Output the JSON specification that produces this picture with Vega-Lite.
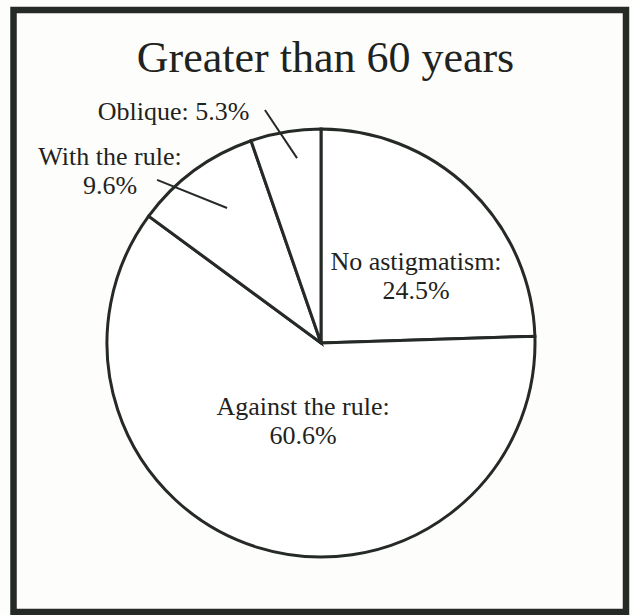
{
  "$schema": "https://vega.github.io/schema/vega-lite/v6.json",
  "width": 622,
  "height": 544,
  "padding": {"left": 10, "top": 71, "right": 0, "bottom": 0},
  "autosize": {"type": "none"},
  "background": "#fdfdfc",
  "config": {"view": {"stroke": null}},
  "datasets": {
    "slices": [
      {"category": "No astigmatism", "pct": 24.5, "order": 1},
      {"category": "Against the rule", "pct": 60.6, "order": 2},
      {"category": "With the rule", "pct": 9.6, "order": 3},
      {"category": "Oblique", "pct": 5.3, "order": 4}
    ],
    "labels": [
      {"label": "No astigmatism:\n24.5%", "ax": 0.444, "ay": 0.341},
      {"label": "Against the rule:\n60.6%", "ax": -0.084, "ay": -0.336},
      {"label": "With the rule:\n9.6%", "ax": -0.986, "ay": 0.832},
      {"label": "Oblique: 5.3%", "ax": -0.689, "ay": 1.042}
    ],
    "leaders": [
      {"category": "Oblique", "ax": -0.262, "ay": 1.089, "bx": -0.112, "by": 0.864},
      {"category": "With the rule", "ax": -0.766, "ay": 0.762, "bx": -0.439, "by": 0.631}
    ]
  },
  "layer": [
    {
      "data": {"name": "slices"},
      "mark": {"type": "arc", "outerRadius": 214, "fill": "#ffffff", "stroke": "#262a27", "strokeWidth": 3, "strokeJoin": "miter"},
      "encoding": {
        "theta": {"field": "pct", "type": "quantitative", "stack": true},
        "order": {"field": "order", "type": "quantitative"}
      }
    },
    {
      "data": {"name": "leaders"},
      "mark": {"type": "rule", "stroke": "#262a27", "strokeWidth": 2},
      "encoding": {
        "x": {"field": "ax", "type": "quantitative", "scale": {"domain": [-1.4533, 1.4533]}, "axis": null},
        "y": {"field": "ay", "type": "quantitative", "scale": {"domain": [-1.271, 1.271]}, "axis": null},
        "x2": {"field": "bx"},
        "y2": {"field": "by"}
      }
    },
    {
      "data": {"name": "labels"},
      "mark": {"type": "text", "font": "Liberation Serif", "fontSize": 26, "lineHeight": 29, "lineBreak": "\n", "align": "center", "baseline": "alphabetic", "color": "#1f2320"},
      "encoding": {
        "x": {"field": "ax", "type": "quantitative", "scale": {"domain": [-1.4533, 1.4533]}, "axis": null},
        "y": {"field": "ay", "type": "quantitative", "scale": {"domain": [-1.271, 1.271]}, "axis": null},
        "text": {"field": "label", "type": "nominal"}
      }
    },
    {
      "data": {"values": [{"title": "Greater than 60 years"}]},
      "mark": {"type": "text", "font": "Liberation Serif", "fontSize": 44, "align": "center", "baseline": "alphabetic", "color": "#1f2320"},
      "encoding": {
        "x": {"datum": 0.021, "type": "quantitative", "scale": {"domain": [-1.4533, 1.4533]}, "axis": null},
        "y": {"datum": 1.2664, "type": "quantitative", "scale": {"domain": [-1.271, 1.271]}, "axis": null},
        "text": {"field": "title", "type": "nominal"}
      }
    },
    {
      "data": {"values": [{}]},
      "mark": {"type": "rect", "fill": null, "stroke": "#262a27", "strokeWidth": 6.5},
      "encoding": {
        "x": {"datum": -1.4369, "type": "quantitative", "scale": {"domain": [-1.4533, 1.4533]}, "axis": null},
        "x2": {"datum": 1.4252},
        "y": {"datum": 1.5561, "type": "quantitative", "scale": {"domain": [-1.271, 1.271]}, "axis": null},
        "y2": {"datum": -1.257}
      }
    }
  ]
}
